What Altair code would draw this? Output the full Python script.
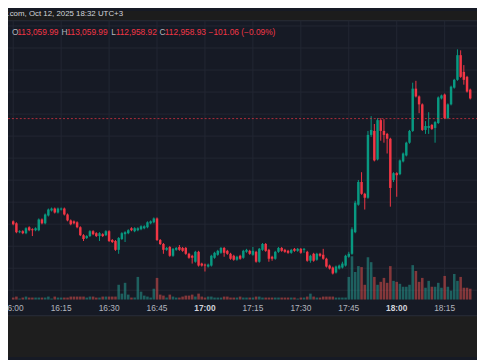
import altair as alt
import pandas as pd

# ---------------- data (1-minute candles from 16:00) ----------------
OPEN = [112026, 112008, 111927, 111936, 111918, 111972, 111954, 111945, 111945, 112043,
        112008, 112079, 112124, 112142, 112106, 112133, 112142, 112088, 112034, 112026,
        112017, 111972, 111900, 111874, 111892, 111936, 111918, 111892, 111909, 111900,
        111936, 111856, 111847, 111767, 111865, 111909, 111918, 111963, 111936, 111945,
        111954, 111963, 111972, 112008, 112017, 112052, 111856, 111820, 111767, 111793,
        111713, 111767, 111793, 111784, 111784, 111731, 111713, 111659, 111749, 111642,
        111633, 111615, 111624, 111695, 111722, 111740, 111784, 111758, 111731, 111713,
        111677, 111713, 111695, 111749, 111758, 111722, 111749, 111659, 111767, 111820,
        111767, 111704, 111686, 111749, 111784, 111767, 111758, 111740, 111776, 111758,
        111776, 111767, 111749, 111668, 111731, 111677, 111731, 111722, 111686, 111624,
        111606, 111561, 111597, 111606, 111624, 111704, 111731, 111927, 112177, 112383,
        112276, 112240, 112811, 112847, 112588, 112945, 112847, 112820, 112776, 112401,
        112463, 112454, 112570, 112624, 112740, 112847, 113231, 113160, 113088, 112856,
        112874, 112901, 112874, 112919, 113142, 113177, 112963, 113088, 113240, 113311,
        113535, 113383, 113338, 113222]
HIGH = [112034, 112017, 111945, 111945, 111972, 111981, 111963, 111972, 112052, 112052,
        112097, 112142, 112151, 112151, 112151, 112151, 112151, 112097, 112043, 112034,
        112026, 111981, 111909, 111900, 111945, 111945, 111927, 111927, 111918, 111945,
        111945, 111865, 111856, 111883, 111927, 111936, 111954, 111972, 111972, 111972,
        111990, 111990, 112026, 112034, 112061, 112061, 111865, 111829, 111793, 111802,
        111784, 111793, 111811, 111793, 111793, 111740, 111722, 111758, 111758, 111650,
        111642, 111642, 111722, 111749, 111767, 111793, 111793, 111767, 111740, 111722,
        111713, 111722, 111767, 111776, 111767, 111793, 111758, 111784, 111829, 111829,
        111776, 111713, 111758, 111793, 111793, 111776, 111767, 111776, 111784, 111784,
        111784, 111784, 111758, 111722, 111740, 111740, 111740, 111776, 111695, 111633,
        111615, 111624, 111633, 111659, 111722, 111749, 111972, 112213, 112401, 112472,
        112285, 112847, 112981, 112910, 112963, 112963, 112954, 112829, 112785, 112472,
        112472, 112588, 112651, 112749, 112856, 113285, 113302, 113169, 113097, 112936,
        113017, 112910, 112936, 113160, 113177, 113186, 113097, 113258, 113320, 113588,
        113579, 113445, 113347, 113231]
LOW = [111990, 111918, 111918, 111909, 111909, 111936, 111892, 111936, 111936, 111999,
       111999, 112070, 112115, 112097, 112097, 112124, 112079, 112026, 111990, 111999,
       111963, 111892, 111847, 111865, 111883, 111900, 111883, 111847, 111883, 111892,
       111838, 111829, 111758, 111731, 111856, 111838, 111909, 111936, 111927, 111936,
       111945, 111954, 111963, 111999, 112008, 111847, 111811, 111731, 111758, 111704,
       111704, 111758, 111758, 111749, 111722, 111686, 111642, 111650, 111615, 111615,
       111570, 111606, 111615, 111686, 111713, 111731, 111704, 111722, 111677, 111668,
       111668, 111677, 111686, 111740, 111722, 111713, 111650, 111650, 111758, 111749,
       111659, 111668, 111677, 111740, 111749, 111740, 111731, 111731, 111749, 111749,
       111731, 111740, 111659, 111650, 111659, 111668, 111704, 111677, 111606, 111588,
       111543, 111552, 111588, 111597, 111615, 111695, 111722, 111918, 112168, 112267,
       112133, 112231, 112793, 112570, 112579, 112758, 112740, 112642, 112159, 112383,
       112249, 112445, 112561, 112615, 112731, 112838, 113151, 113008, 112847, 112820,
       112820, 112856, 112740, 112910, 113133, 112954, 112954, 113079, 113231, 113302,
       113329, 113267, 113195, 113133]
CLOSE = [111999, 111927, 111936, 111918, 111963, 111945, 111945, 111963, 112043, 112008,
         112088, 112133, 112142, 112106, 112142, 112142, 112088, 112034, 111999, 112008,
         111972, 111900, 111865, 111892, 111936, 111909, 111892, 111918, 111892, 111936,
         111847, 111838, 111767, 111874, 111918, 111927, 111945, 111945, 111963, 111963,
         111981, 111981, 112017, 112026, 112052, 111856, 111820, 111767, 111784, 111713,
         111776, 111784, 111767, 111758, 111731, 111695, 111695, 111749, 111624, 111624,
         111624, 111633, 111713, 111740, 111758, 111784, 111740, 111731, 111686, 111677,
         111704, 111686, 111758, 111767, 111731, 111758, 111659, 111776, 111820, 111758,
         111686, 111686, 111749, 111784, 111758, 111749, 111740, 111767, 111758, 111776,
         111740, 111776, 111668, 111713, 111668, 111731, 111713, 111686, 111615, 111597,
         111552, 111615, 111624, 111642, 111713, 111731, 111954, 112195, 112383, 112276,
         112240, 112811, 112856, 112579, 112945, 112847, 112811, 112776, 112329, 112463,
         112445, 112579, 112642, 112740, 112847, 113231, 113160, 113088, 112856, 112892,
         112892, 112865, 112927, 113151, 113169, 112963, 113088, 113249, 113311, 113535,
         113338, 113311, 113204, 113142]
VOLUME = [6, 9, 3, 6, 9, 6, 6, 6, 6, 6,
          6, 9, 3, 9, 6, 6, 6, 6, 9, 9,
          9, 9, 9, 6, 9, 9, 6, 6, 9, 9,
          9, 9, 9, 45, 18, 51, 15, 6, 6, 69,
          24, 12, 9, 6, 33, 66, 15, 12, 6, 15,
          9, 6, 6, 9, 12, 12, 15, 9, 18, 9,
          6, 9, 9, 6, 6, 6, 9, 9, 6, 6,
          6, 9, 6, 6, 6, 6, 9, 9, 6, 6,
          6, 6, 6, 6, 6, 6, 6, 6, 6, 3,
          6, 6, 9, 18, 9, 6, 6, 9, 9, 9,
          9, 6, 6, 6, 6, 69, 132, 84, 102, 99,
          45, 129, 114, 69, 45, 54, 66, 51, 102, 57,
          54, 48, 39, 39, 45, 105, 87, 54, 66, 36,
          57, 39, 39, 51, 36, 72, 39, 27, 78, 57,
          69, 36, 36, 33]

TICK_MINUTES = [0, 15, 30, 45, 60, 75, 90, 105, 120, 135]
TICK_LABELS = ["16:00", "16:15", "16:30", "16:45", "17:00", "17:15", "17:30", "17:45", "18:00", "18:15"]
BOLD_TICKS = ["17:00", "18:00"]
PRICE_GRID = [111400, 111600, 111800, 112000, 112200, 112400, 112600, 112800, 113000, 113200, 113400, 113600, 113800]
LAST_PRICE = 112958.93
HEADER_TITLE = "TradingView.com, Oct 12, 2025 18:32 UTC+3"
OHLC_KEYS = ["O", "H", "L", "C"]
OHLC_VALUES = ["113,059.99", "113,059.99", "112,958.92", "112,958.93"]
CHANGE_TEXT = "\u2212101.06 (\u22120.09%)"

# ---------------- styles / layout ----------------
W, H = 477, 352
PANE_TOP, PANE_BOTTOM = 10, 294
AXIS_BOTTOM = 310
BG = "#161a25"
TOPBAR = "#1c1c1c"
BOTTOM_BG = "#1e1e1e"
GRID = "#232733"
UP, DOWN = "#089981", "#f23645"
VOL_UP, VOL_DOWN = "#26a69a", "#ef5350"
TXT = "#b2b5be"
TXT_BRIGHT = "#d1d4dc"
FONT = "Liberation Sans"

X_SCALE = alt.Scale(domain=[-0.09, 143.58], nice=False, zero=False)
PRICE_SCALE = alt.Scale(domain=[110793.2, 113936.6], nice=False, zero=False)
VOL_SCALE = alt.Scale(domain=[-175.5, 880.5], nice=False, zero=False)

df = pd.DataFrame({"minute": list(range(len(OPEN))), "open": OPEN, "high": HIGH,
                   "low": LOW, "close": CLOSE, "volume": VOLUME})
df["dir"] = ["up" if c >= o else "down" for o, c in zip(OPEN, CLOSE)]

one = pd.DataFrame({"k": [0]})
ticks = pd.DataFrame({"minute": TICK_MINUTES, "label": TICK_LABELS})
grid = pd.DataFrame({"price": PRICE_GRID})
last = pd.DataFrame({"price": [LAST_PRICE]})

xq = alt.X("minute:Q", scale=X_SCALE, axis=None)
is_up = "datum.dir == 'up'"

layers = []

# background panels
layers.append(alt.Chart(one).mark_rect(color=TOPBAR).encode(
    x=alt.value(0), x2=alt.value(W), y=alt.value(0), y2=alt.value(PANE_TOP)))
layers.append(alt.Chart(one).mark_rect(color=BOTTOM_BG).encode(
    x=alt.value(0), x2=alt.value(W), y=alt.value(AXIS_BOTTOM), y2=alt.value(H)))
layers.append(alt.Chart(one).mark_rule(color="#2a2e39", strokeWidth=1).encode(
    x=alt.value(0), x2=alt.value(W), y=alt.value(PANE_TOP)))
layers.append(alt.Chart(one).mark_rule(color="#2a2e39", strokeWidth=1).encode(
    x=alt.value(0), x2=alt.value(W), y=alt.value(AXIS_BOTTOM)))

# grid
layers.append(alt.Chart(ticks).mark_rule(color=GRID, strokeWidth=1).encode(
    x=xq, y=alt.value(PANE_TOP), y2=alt.value(PANE_BOTTOM)))
layers.append(alt.Chart(grid).mark_rule(color=GRID, strokeWidth=1).encode(
    y=alt.Y("price:Q", scale=PRICE_SCALE, axis=None), x=alt.value(0), x2=alt.value(W)))

# volume
layers.append(alt.Chart(df).mark_bar(size=2.6, opacity=0.5).encode(
    x=xq,
    y=alt.Y("volume:Q", scale=VOL_SCALE, axis=None),
    y2=alt.datum(0),
    color=alt.condition(is_up, alt.value(VOL_UP), alt.value(VOL_DOWN))))

# candles
layers.append(alt.Chart(df).mark_rule(strokeWidth=1).encode(
    x=xq,
    y=alt.Y("high:Q", scale=PRICE_SCALE, axis=None),
    y2="low:Q",
    color=alt.condition(is_up, alt.value(UP), alt.value(DOWN))))
layers.append(alt.Chart(df).mark_bar(size=2.5).encode(
    x=xq,
    y=alt.Y("open:Q", scale=PRICE_SCALE, axis=None),
    y2="close:Q",
    color=alt.condition(is_up, alt.value(UP), alt.value(DOWN))))

# last price dashed line
layers.append(alt.Chart(last).mark_rule(color=DOWN, strokeDash=[2, 2], strokeWidth=1, opacity=0.7).encode(
    y=alt.Y("price:Q", scale=PRICE_SCALE, axis=None), x=alt.value(0), x2=alt.value(W)))

# time labels
layers.append(alt.Chart(ticks).transform_filter(
    alt.FieldOneOfPredicate(field="label", oneOf=[t for t in TICK_LABELS if t not in BOLD_TICKS])
).mark_text(font=FONT, fontSize=8.5, color=TXT, baseline="middle", align="center").encode(
    x=xq, y=alt.value(302), text="label:N"))
layers.append(alt.Chart(ticks).transform_filter(
    alt.FieldOneOfPredicate(field="label", oneOf=BOLD_TICKS)
).mark_text(font=FONT, fontSize=8.5, fontWeight="bold", color=TXT_BRIGHT, baseline="middle", align="center").encode(
    x=xq, y=alt.value(302), text="label:N"))

# header title (cropped on the left like the screenshot)
layers.append(alt.Chart(one).mark_text(font=FONT, fontSize=8, color=TXT_BRIGHT, baseline="middle", align="right").encode(
    x=alt.value(117), y=alt.value(3), text=alt.value(HEADER_TITLE)))

# OHLC legend line
key_x = [4, 54.5, 105, 154]
val_x = [9.5, 59.5, 109.5, 159.5]
for k, v, kx, vx in zip(OHLC_KEYS, OHLC_VALUES, key_x, val_x):
    layers.append(alt.Chart(one).mark_text(font=FONT, fontSize=8.5, color=TXT, baseline="middle", align="left").encode(
        x=alt.value(kx), y=alt.value(21), text=alt.value(k)))
    layers.append(alt.Chart(one).mark_text(font=FONT, fontSize=8.5, color=DOWN, baseline="middle", align="left").encode(
        x=alt.value(vx), y=alt.value(21), text=alt.value(v)))
layers.append(alt.Chart(one).mark_text(font=FONT, fontSize=8.5, color=DOWN, baseline="middle", align="left").encode(
    x=alt.value(204), y=alt.value(21), text=alt.value(CHANGE_TEXT)))

chart = alt.layer(*layers).resolve_scale(y="independent").properties(
    width=W, height=H, padding=0,
    autosize=alt.AutoSizeParams(type="none"),
    background=BG,
).configure_view(stroke=None)

chart.save("out.html", embed_options={"renderer": "svg", "actions": False})
